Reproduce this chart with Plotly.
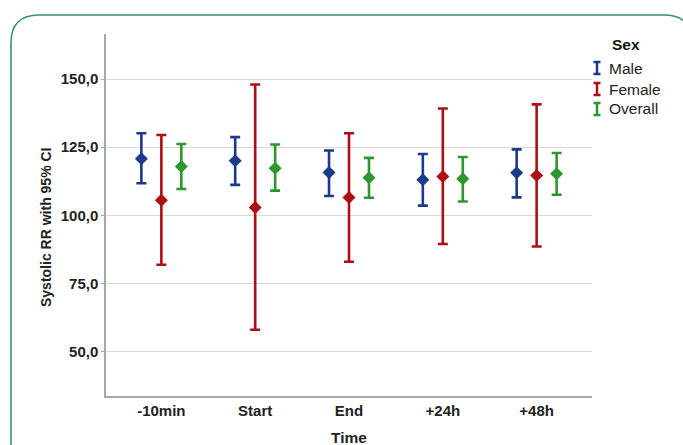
import plotly.graph_objects as go

categories = ["-10min", "Start", "End", "+24h", "+48h"]

male_mean = [120.8, 120.0, 115.7, 113.1, 115.6]
male_upper = [130.1, 128.7, 123.8, 122.5, 124.2]
male_lower = [111.8, 111.2, 107.1, 103.6, 106.6]

female_mean = [105.6, 102.9, 106.6, 114.3, 114.6]
female_upper = [129.5, 148.0, 130.1, 139.2, 140.7]
female_lower = [81.9, 58.1, 83.0, 89.5, 88.6]

overall_mean = [117.9, 117.3, 113.8, 113.4, 115.3]
overall_upper = [126.2, 126.0, 121.1, 121.4, 122.9]
overall_lower = [109.7, 109.1, 106.5, 105.1, 107.6]

series_names = ["Male", "Female", "Overall"]
colors = ["#1c3a8a", "#ad0f14", "#2e962e"]

W, H = 683, 445
L, R, T, B = 106, 91, 34, 49
PW, PH = W - L - R, H - T - B


def px2paper(x, y):
    return (x - L) / PW, (H - B - y) / PH


fig = go.Figure()
offsets = [-0.213, 0.0, 0.213]
data = [
    (male_mean, male_upper, male_lower),
    (female_mean, female_upper, female_lower),
    (overall_mean, overall_upper, overall_lower),
]
for name, col, off, (m, u, lo) in zip(series_names, colors, offsets, data):
    fig.add_trace(go.Scatter(
        x=[i + off for i in range(len(categories))],
        y=m,
        mode="markers",
        name=name,
        showlegend=False,
        marker=dict(symbol="diamond", size=10, color=col, line=dict(width=0)),
        error_y=dict(
            type="data",
            symmetric=False,
            array=[a - b for a, b in zip(u, m)],
            arrayminus=[b - c for b, c in zip(m, lo)],
            color=col,
            thickness=2.6,
            width=5,
        ),
    ))

shapes = []
annotations = []

# manual legend with I-beam symbols
leg_rows = [68, 89, 109]
for name, col, yy in zip(series_names, colors, leg_rows):
    sx = 597
    x0, y0 = px2paper(sx, yy - 6)
    x1, y1 = px2paper(sx, yy + 6)
    shapes.append(dict(type="line", xref="paper", yref="paper", x0=x0, y0=y0, x1=x1, y1=y1,
                       line=dict(color=col, width=2.5)))
    for cy in (yy - 6, yy + 6):
        a0, b0 = px2paper(sx - 3.5, cy)
        a1, b1 = px2paper(sx + 3.5, cy)
        shapes.append(dict(type="line", xref="paper", yref="paper", x0=a0, y0=b0, x1=a1, y1=b1,
                           line=dict(color=col, width=2.5)))
    tx, ty = px2paper(607, yy)
    annotations.append(dict(text=name, xref="paper", yref="paper", x=tx, y=ty,
                            xanchor="left", yanchor="middle", showarrow=False,
                            font=dict(family="Liberation Sans, Arial", size=15.5, color="#222")))
tx, ty = px2paper(626, 44)
annotations.append(dict(text="<b>Sex</b>", xref="paper", yref="paper", x=tx, y=ty,
                        xanchor="center", yanchor="middle", showarrow=False,
                        font=dict(family="Liberation Sans, Arial", size=15.5, color="#111")))

# axis titles
tx, ty = px2paper(349, 437)
annotations.append(dict(text="<b>Time</b>", xref="paper", yref="paper", x=tx, y=ty,
                        xanchor="center", yanchor="middle", showarrow=False,
                        font=dict(family="Liberation Sans, Arial", size=15.5, color="#222")))
tx, ty = px2paper(46, 228)
annotations.append(dict(text="<b>Systolic RR with 95% CI</b>", xref="paper", yref="paper", x=tx, y=ty,
                        xanchor="center", yanchor="middle", showarrow=False, textangle=-90,
                        font=dict(family="Liberation Sans, Arial", size=14, color="#222")))

# rounded frame border
def P(x, y):
    a, b = px2paper(x, y)
    return f"{a:.5f},{b:.5f}"
path = ("M " + P(11, 460) + " L " + P(11, 43) + " Q " + P(11, 15) + " " + P(39, 15)
        + " L " + P(664, 15) + " Q " + P(692, 15) + " " + P(692, 43) + " L " + P(692, 460))
shapes.append(dict(type="path", xref="paper", yref="paper", path=path,
                   line=dict(color="#3b8f7a", width=1.6)))

fig.update_layout(
    width=W, height=H,
    margin=dict(l=L, r=R, t=T, b=B, autoexpand=False),
    paper_bgcolor="white",
    plot_bgcolor="white",
    separators=", ",
    showlegend=False,
    shapes=shapes,
    annotations=annotations,
    font=dict(family="Liberation Sans, Arial", color="#222"),
)
fig.update_xaxes(
    range=[-0.59, 4.59],
    tickvals=list(range(len(categories))),
    ticktext=categories,
    showgrid=False,
    zeroline=False,
    automargin=False,
    showline=True, linecolor="#a6a6a6", linewidth=1.5,
    ticks="",
    tickfont=dict(size=15, color="#222", weight="bold"),
)
fig.update_yaxes(
    range=[33.8, 166.5],
    tickvals=[50, 75, 100, 125, 150],
    tickformat=".1f",
    showgrid=True, gridcolor="#d9d9d9", gridwidth=1.2,
    zeroline=False,
    automargin=False,
    showline=True, linecolor="#a6a6a6", linewidth=1.5,
    ticks="outside", ticklen=3, tickcolor="#a6a6a6",
    tickfont=dict(size=15, color="#222", weight="bold"),
)

fig.write_html(
    "out.html",
    config={"displayModeBar": False},
    post_script="document.body.style.margin='0';document.body.style.overflow='hidden';",
)
